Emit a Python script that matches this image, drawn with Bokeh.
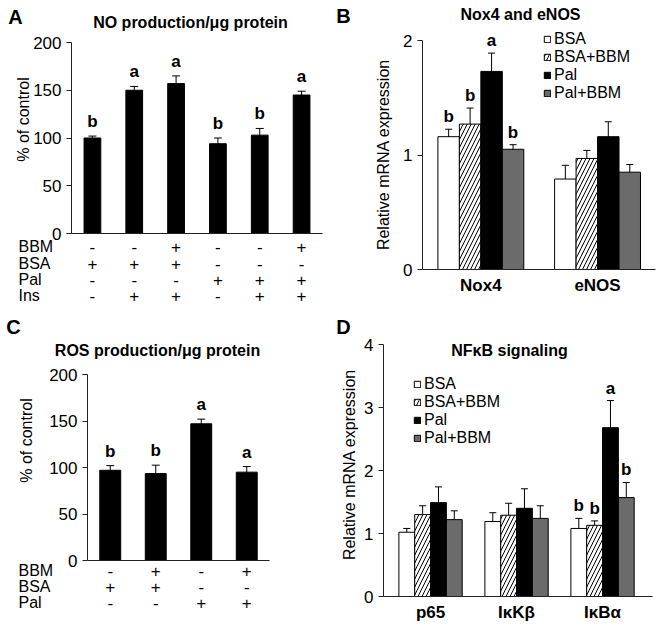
import math
from bokeh.plotting import figure
from bokeh.models import (Range1d, FixedTicker, ColumnDataSource, Whisker, TeeHead,
                          Legend, LegendItem)
from bokeh.layouts import column, row
from bokeh.embed import file_html
from bokeh.resources import INLINE
from bokeh.core.properties import value

FONT = "Liberation Sans"

# ---------------- data ----------------
# Panel A : NO production
a_values = [100, 150, 157, 94, 103, 145]
a_errors = [2, 4, 8, 6, 7, 4]
a_letters = ["b", "a", "a", "b", "b", "a"]
a_rows = ["BBM", "BSA", "Pal", "Ins"]
a_bbm = ["-", "-", "+", "-", "-", "+"]
a_bsa = ["+", "+", "+", "-", "-", "-"]
a_pal = ["-", "-", "-", "+", "+", "+"]
a_ins = ["-", "+", "+", "-", "+", "+"]

# Panel C : ROS production
c_values = [97, 93.5, 147, 95]
c_errors = [5, 9, 5, 6]
c_letters = ["b", "b", "a", "a"]
c_rows = ["BBM", "BSA", "Pal"]
c_bbm = ["-", "+", "-", "+"]
c_bsa = ["+", "+", "-", "-"]
c_pal = ["-", "-", "+", "+"]

series = ["BSA", "BSA+BBM", "Pal", "Pal+BBM"]

# Panel B : Nox4 and eNOS
b_genes = ["Nox4", "eNOS"]
b_bsa = [1.16, 0.79]
b_bsa_bbm = [1.27, 0.97]
b_pal = [1.73, 1.16]
b_pal_bbm = [1.05, 0.85]
b_err_bsa = [0.065, 0.12]
b_err_bsa_bbm = [0.14, 0.07]
b_err_pal = [0.16, 0.13]
b_err_pal_bbm = [0.04, 0.067]
b_let_bsa = ["b", ""]
b_let_bsa_bbm = ["b", ""]
b_let_pal = ["a", ""]
b_let_pal_bbm = ["b", ""]

# Panel D : NFkB signaling
d_genes = ["p65", "IκKβ", "IκBα"]
d_bsa = [1.02, 1.19, 1.08]
d_bsa_bbm = [1.30, 1.29, 1.13]
d_pal = [1.49, 1.40, 2.68]
d_pal_bbm = [1.22, 1.24, 1.57]
d_err_bsa = [0.06, 0.14, 0.16]
d_err_bsa_bbm = [0.14, 0.19, 0.07]
d_err_pal = [0.25, 0.31, 0.43]
d_err_pal_bbm = [0.14, 0.20, 0.24]
d_let_bsa = ["", "", "b"]
d_let_bsa_bbm = ["", "", "b"]
d_let_pal = ["", "", "a"]
d_let_pal_bbm = ["", "", "b"]

# ---------------- geometry (page pixels) ----------------
# origin/size: figure box on the page; axes: box spanned by the drawn axes
# (left, right, top, bottom) and the data ranges that map onto it.
GEO = {
    "A": dict(origin=(0, 0), size=(330, 310), axes=(71, 322, 42, 233), xr=(-0.5, 5.5), yr=(0, 200)),
    "B": dict(origin=(330, 0), size=(327, 310), axes=(422, 655, 40, 269), xr=(-0.5, -0.5 + 233 / 116.7), yr=(0, 2)),
    "C": dict(origin=(0, 310), size=(330, 322), axes=(87, 269, 374, 560), xr=(-0.5, 3.5), yr=(0, 200)),
    "D": dict(origin=(330, 310), size=(327, 322), axes=(383, 652, 344, 596), xr=(-0.547, -0.547 + 269 / 86.0), yr=(0, 4)),
}


def ax2x(g, ax):
    fl, fr = g["axes"][0], g["axes"][1]
    x0, x1 = g["xr"]
    return x0 + (ax - fl) * (x1 - x0) / (fr - fl)


def ay2y(g, ay):
    ft, fb = g["axes"][2], g["axes"][3]
    y0, y1 = g["yr"]
    return y0 + (fb - ay) * (y1 - y0) / (fb - ft)


def px_y(g, n):
    ft, fb = g["axes"][2], g["axes"][3]
    y0, y1 = g["yr"]
    return n * (y1 - y0) / (fb - ft)


def make_fig(g, yticks):
    ox, oy = g["origin"]
    w, h = g["size"]
    p = figure(width=w, height=h,
               x_range=Range1d(ax2x(g, ox), ax2x(g, ox + w)),
               y_range=Range1d(ay2y(g, oy + h), ay2y(g, oy)),
               output_backend="svg", toolbar_location=None,
               min_border_left=0, min_border_right=0, min_border_top=0, min_border_bottom=0)
    p.xgrid.visible = False
    p.ygrid.visible = False
    p.outline_line_color = None
    p.background_fill_color = "white"
    p.border_fill_color = "white"
    ya = p.yaxis[0]
    ya.fixed_location = g["xr"][0]
    ya.bounds = g["yr"]
    ya.ticker = FixedTicker(ticks=yticks)
    ya.major_tick_out = 5
    ya.major_tick_in = 0
    ya.minor_tick_out = 0
    ya.minor_tick_in = 0
    ya.axis_line_color = "#222222"
    ya.major_tick_line_color = "#222222"
    ya.major_label_text_font = FONT
    ya.major_label_text_font_size = "17px"
    ya.major_label_text_color = "black"
    ya.major_label_standoff = 5
    xa = p.xaxis[0]
    xa.fixed_location = g["yr"][0]
    xa.bounds = g["xr"]
    xa.major_tick_out = 0
    xa.major_tick_in = 0
    xa.minor_tick_out = 0
    xa.minor_tick_in = 0
    xa.axis_line_color = "#222222"
    return p


def add_texts(p, g, items, size, bold=False, align="center", angle=0.0):
    """items: list of (page_x, page_y, text)"""
    src = ColumnDataSource(dict(x=[ax2x(g, it[0]) for it in items],
                                y=[ay2y(g, it[1]) for it in items],
                                t=[it[2] for it in items]))
    p.text(x="x", y="y", text="t", source=src, text_font=value(FONT), text_font_size=size,
           text_font_style="bold" if bold else "normal", text_align=align,
           text_baseline="middle", text_color="black", angle=angle)


def add_letters(p, g, xs, up, letters, gap):
    src = ColumnDataSource(dict(x=xs, y=[u + px_y(g, gap) for u in up], t=letters))
    p.text(x="x", y="y", text="t", source=src, text_font=value(FONT), text_font_size="17px",
           text_font_style="bold", text_align="center", text_baseline="bottom",
           text_color="black")


def simple_panel(key, values, errors, letters, rows, table, row_ay, title, title_pos,
                 letter_pos, ylabel_pos, bar_w):
    g = GEO[key]
    p = make_fig(g, [0, 50, 100, 150, 200])
    p.xaxis[0].ticker = FixedTicker(ticks=[])
    idx = list(range(len(values)))
    up = [v + e for v, e in zip(values, errors)]
    lo = [v - e for v, e in zip(values, errors)]
    src = ColumnDataSource(dict(x=idx, top=values, up=up, lo=lo))
    p.vbar(x="x", top="top", width=bar_w, source=src, fill_color="black", line_color="black")
    p.add_layout(Whisker(base="x", upper="up", lower="lo", source=src, line_color="black",
                         line_width=1,
                         upper_head=TeeHead(size=8, line_color="black", line_width=1),
                         lower_head=TeeHead(size=8, line_color="black", line_width=1)))
    add_letters(p, g, idx, up, letters, 5)
    # condition table under the bars
    for name, signs, ay in zip(rows, table, row_ay):
        y = ay2y(g, ay)
        tsrc = ColumnDataSource(dict(x=idx, y=[y] * len(idx), t=signs))
        p.text(x="x", y="y", text="t", source=tsrc, text_font=value(FONT),
               text_font_size="17px", text_align="center", text_baseline="middle",
               text_color="black")
    add_texts(p, g, [(18, ay, name) for name, ay in zip(rows, row_ay)], "16px", align="left")
    add_texts(p, g, [(title_pos[0], title_pos[1], title)], "16px", bold=True)
    add_texts(p, g, [(letter_pos[0], letter_pos[1], key)], "20px", bold=True)
    add_texts(p, g, [(ylabel_pos[0], ylabel_pos[1], "% of control")], "16px", angle=math.pi / 2)
    return p


STYLE = {
    "BSA": dict(fill_color="white"),
    "BSA+BBM": dict(fill_color="white", hatch_pattern="/", hatch_color="black",
                    hatch_scale=8, hatch_weight=1),
    "Pal": dict(fill_color="black"),
    "Pal+BBM": dict(fill_color="#6b6b6b"),
}
OFFSETS = [-0.276, -0.092, 0.092, 0.276]


def grouped_panel(key, genes, vals, errs, lets, yticks, title, title_pos, letter_pos,
                  ylabel_pos, legend_loc, xlabel_standoff):
    g = GEO[key]
    p = make_fig(g, yticks)
    xa = p.xaxis[0]
    xa.ticker = FixedTicker(ticks=list(range(len(genes))))
    xa.major_label_overrides = {i: s for i, s in enumerate(genes)}
    xa.major_label_text_font = FONT
    xa.major_label_text_font_size = "17px"
    xa.major_label_text_font_style = "bold"
    xa.major_label_text_color = "black"
    xa.major_label_standoff = xlabel_standoff
    items = []
    for s, off, v, e, l in zip(series, OFFSETS, vals, errs, lets):
        xs = [i + off for i in range(len(genes))]
        up = [a + b for a, b in zip(v, e)]
        lo = [a - b for a, b in zip(v, e)]
        src = ColumnDataSource(dict(x=xs, top=v, up=up, lo=lo))
        r = p.vbar(x="x", top="top", width=0.184, source=src, line_color="black",
                   line_width=1, **STYLE[s])
        items.append(LegendItem(label=s, renderers=[r]))
        p.add_layout(Whisker(base="x", upper="up", lower="lo", source=src, line_color="black",
                             line_width=1,
                             upper_head=TeeHead(size=7, line_color="black", line_width=1),
                             lower_head=TeeHead(size=7, line_color="black", line_width=1)))
        add_letters(p, g, xs, up, l, 3)
    leg = Legend(items=items, location=legend_loc, label_text_font=FONT,
                 label_text_font_size="16px", label_text_color="black",
                 label_text_line_height=1.0,
                 glyph_width=8, glyph_height=8, label_standoff=3, padding=0, margin=0,
                 spacing=0, label_height=17, border_line_color=None,
                 background_fill_alpha=0)
    p.add_layout(leg)
    add_texts(p, g, [(title_pos[0], title_pos[1], title)], "16px", bold=True)
    add_texts(p, g, [(letter_pos[0], letter_pos[1], key)], "20px", bold=True)
    add_texts(p, g, [(ylabel_pos[0], ylabel_pos[1], "Relative mRNA expression")], "16px",
              angle=math.pi / 2)
    return p


pA = simple_panel("A", a_values, a_errors, a_letters, a_rows, [a_bbm, a_bsa, a_pal, a_ins],
                  [246, 263, 279, 295], "NO production/\u03bcg protein", (190, 22), (15, 16),
                  (23, 119), 0.4)
pC = simple_panel("C", c_values, c_errors, c_letters, c_rows, [c_bbm, c_bsa, c_pal],
                  [570, 586, 602], "ROS production/\u03bcg protein", (157, 350), (13, 326),
                  (26, 440), 0.46)

pB = grouped_panel("B", b_genes,
                   [b_bsa, b_bsa_bbm, b_pal, b_pal_bbm],
                   [b_err_bsa, b_err_bsa_bbm, b_err_pal, b_err_pal_bbm],
                   [b_let_bsa, b_let_bsa_bbm, b_let_pal, b_let_pal_bbm],
                   [0, 1, 2], "Nox4 and eNOS", (520, 14), (343, 15), (383, 154),
                   (213, 208), 6)
pD = grouped_panel("D", d_genes,
                   [d_bsa, d_bsa_bbm, d_pal, d_pal_bbm],
                   [d_err_bsa, d_err_bsa_bbm, d_err_pal, d_err_pal_bbm],
                   [d_let_bsa, d_let_bsa_bbm, d_let_pal, d_let_pal_bbm],
                   [0, 1, 2, 3, 4], "NF\u03baB signaling", (509, 350), (343, 326), (349, 464),
                   (83, 185), 6)

layout = column(row(pA, pB), row(pC, pD))
open("out.html", "w").write(file_html(layout, INLINE))
